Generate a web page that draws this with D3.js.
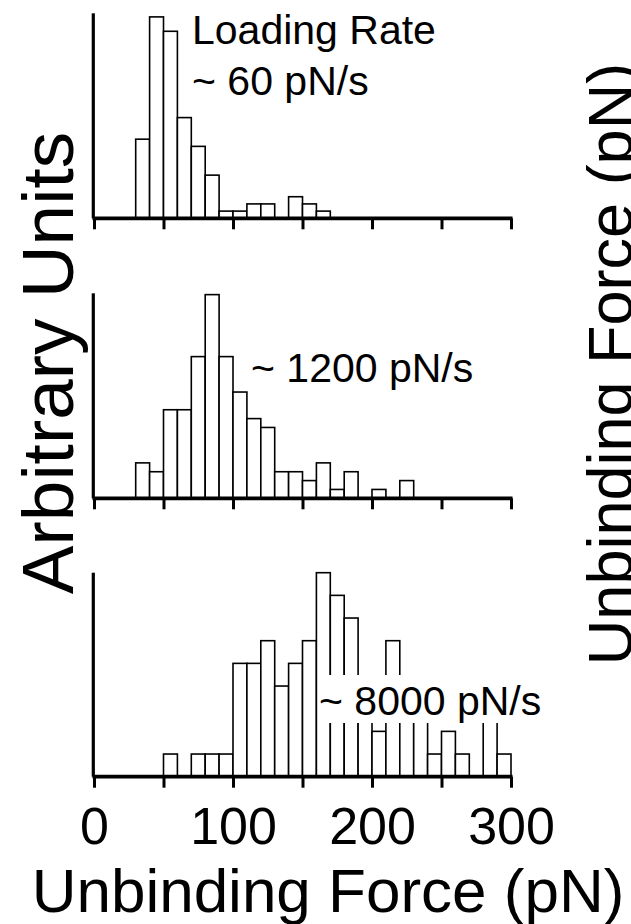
<!DOCTYPE html>
<html><head><meta charset="utf-8">
<script src="https://cdn.jsdelivr.net/npm/d3@7"></script>
<style>
body{margin:0;background:#fff}
svg{display:block}
text{font-family:"Liberation Sans",Arial,Helvetica,sans-serif;fill:#000}
</style>
</head><body>
<svg id="c" width="631" height="924"></svg>
<script>
// ---- data ----
const binWidth = 10;                       // pN
const firstBin60 = 30, firstBin1200 = 30, firstBin8000 = 50;
const counts60   = [11,28,26,14,10,6,1,1,2,2,0,3,2,1];
const counts1200 = [4,3,10,10,16,23,16,12,9,8,3,3,2,4,1,3,0,1,0,2];
const counts8000 = [1,0,1,1,1,5,5,6,4,5,6,9,8,7,3,2,6,3,3,1,2,1,0,3,1];
const rateLabels = ["~ 60 pN/s", "~ 1200 pN/s", "~ 8000 pN/s"];
const topLabel = "Loading Rate";
const xTicks = [0,50,100,150,200,250,300];
const xTickLabels = [0,100,200,300];
const xLabel = "Unbinding Force (pN)";
const yLabel = "Arbitrary Units";
const yMaxUnits = [28.5, 23.15, 9.0];     // per-panel arbitrary units at axis top

// ---- layout ----
const svg = d3.select("#c");
const x = d3.scaleLinear().domain([0,300]).range([94,511]);
const panels = [
  {counts: counts60,   first: firstBin60,   base: 218.3, top: 13.3},
  {counts: counts1200, first: firstBin1200, base: 498.3, top: 293.3},
  {counts: counts8000, first: firstBin8000, base: 776.7, top: 572.7}
];

panels.forEach((p, i) => {
  const y = d3.scaleLinear().domain([0, yMaxUnits[i]]).range([p.base, p.top]);
  const bins = p.counts.map((c, k) => ({x0: p.first + k*binWidth, x1: p.first + (k+1)*binWidth, c}))
                       .filter(b => b.c > 0);
  const g = svg.append("g");
  g.selectAll("rect.bar").data(bins).join("rect")
    .attr("class","bar")
    .attr("x", d => x(d.x0))
    .attr("width", d => x(d.x1) - x(d.x0))
    .attr("y", d => y(d.c))
    .attr("height", d => y(0) - y(d.c))
    .attr("fill","#fff").attr("stroke","#000").attr("stroke-width",1.6);

  // annotation
  if (i === 0) {
    g.append("text").attr("x",192).attr("y",44).attr("font-size",41).text(topLabel);
    g.append("text").attr("x",192).attr("y",95).attr("font-size",41).text(rateLabels[0]);
  } else if (i === 1) {
    g.append("text").attr("x",251).attr("y",382).attr("font-size",41).text(rateLabels[1]);
  } else {
    g.append("rect").attr("x",319).attr("y",675).attr("width",232).attr("height",48).attr("fill","#fff");
    g.append("text").attr("x",319).attr("y",715).attr("font-size",41).text(rateLabels[2]);
  }

  // x axis
  const ax = d3.axisBottom(x).tickValues(xTicks).tickSizeInner(11).tickSizeOuter(0).tickPadding(19)
    .tickFormat(d => (i === 2 && xTickLabels.includes(d)) ? d : "");
  const axg = svg.append("g").attr("transform", `translate(0,${p.base})`).call(ax);
  axg.select(".domain").attr("stroke","#000").attr("stroke-width",3.8)
     .attr("d", `M${x(0)-1.5},0H${x(300)+1.5}`);
  axg.selectAll(".tick line").attr("stroke","#000").attr("stroke-width",3);
  axg.selectAll(".tick text").attr("font-size",52).attr("fill","#000")
     .attr("font-family",'"Liberation Sans",Arial,Helvetica,sans-serif');

  // y axis (line only)
  const ay = d3.axisLeft(y).tickValues([]).tickSizeOuter(0);
  const ayg = svg.append("g").attr("transform", `translate(${x(0)-0.7},0)`).call(ay);
  ayg.select(".domain").attr("stroke","#000").attr("stroke-width",3.2)
     .attr("d", `M0,${p.top}V${p.base}`);
});

// axis titles
svg.append("text").attr("x",328).attr("y",912).attr("text-anchor","middle")
   .attr("font-size",62).text(xLabel);
svg.append("text").attr("transform","translate(73,363) rotate(-90)").attr("text-anchor","middle")
   .attr("font-size",73).text(yLabel);
svg.append("text").attr("transform","translate(632,364) rotate(-90)").attr("text-anchor","middle")
   .attr("font-size",63).text(xLabel);
</script>
</body></html>
